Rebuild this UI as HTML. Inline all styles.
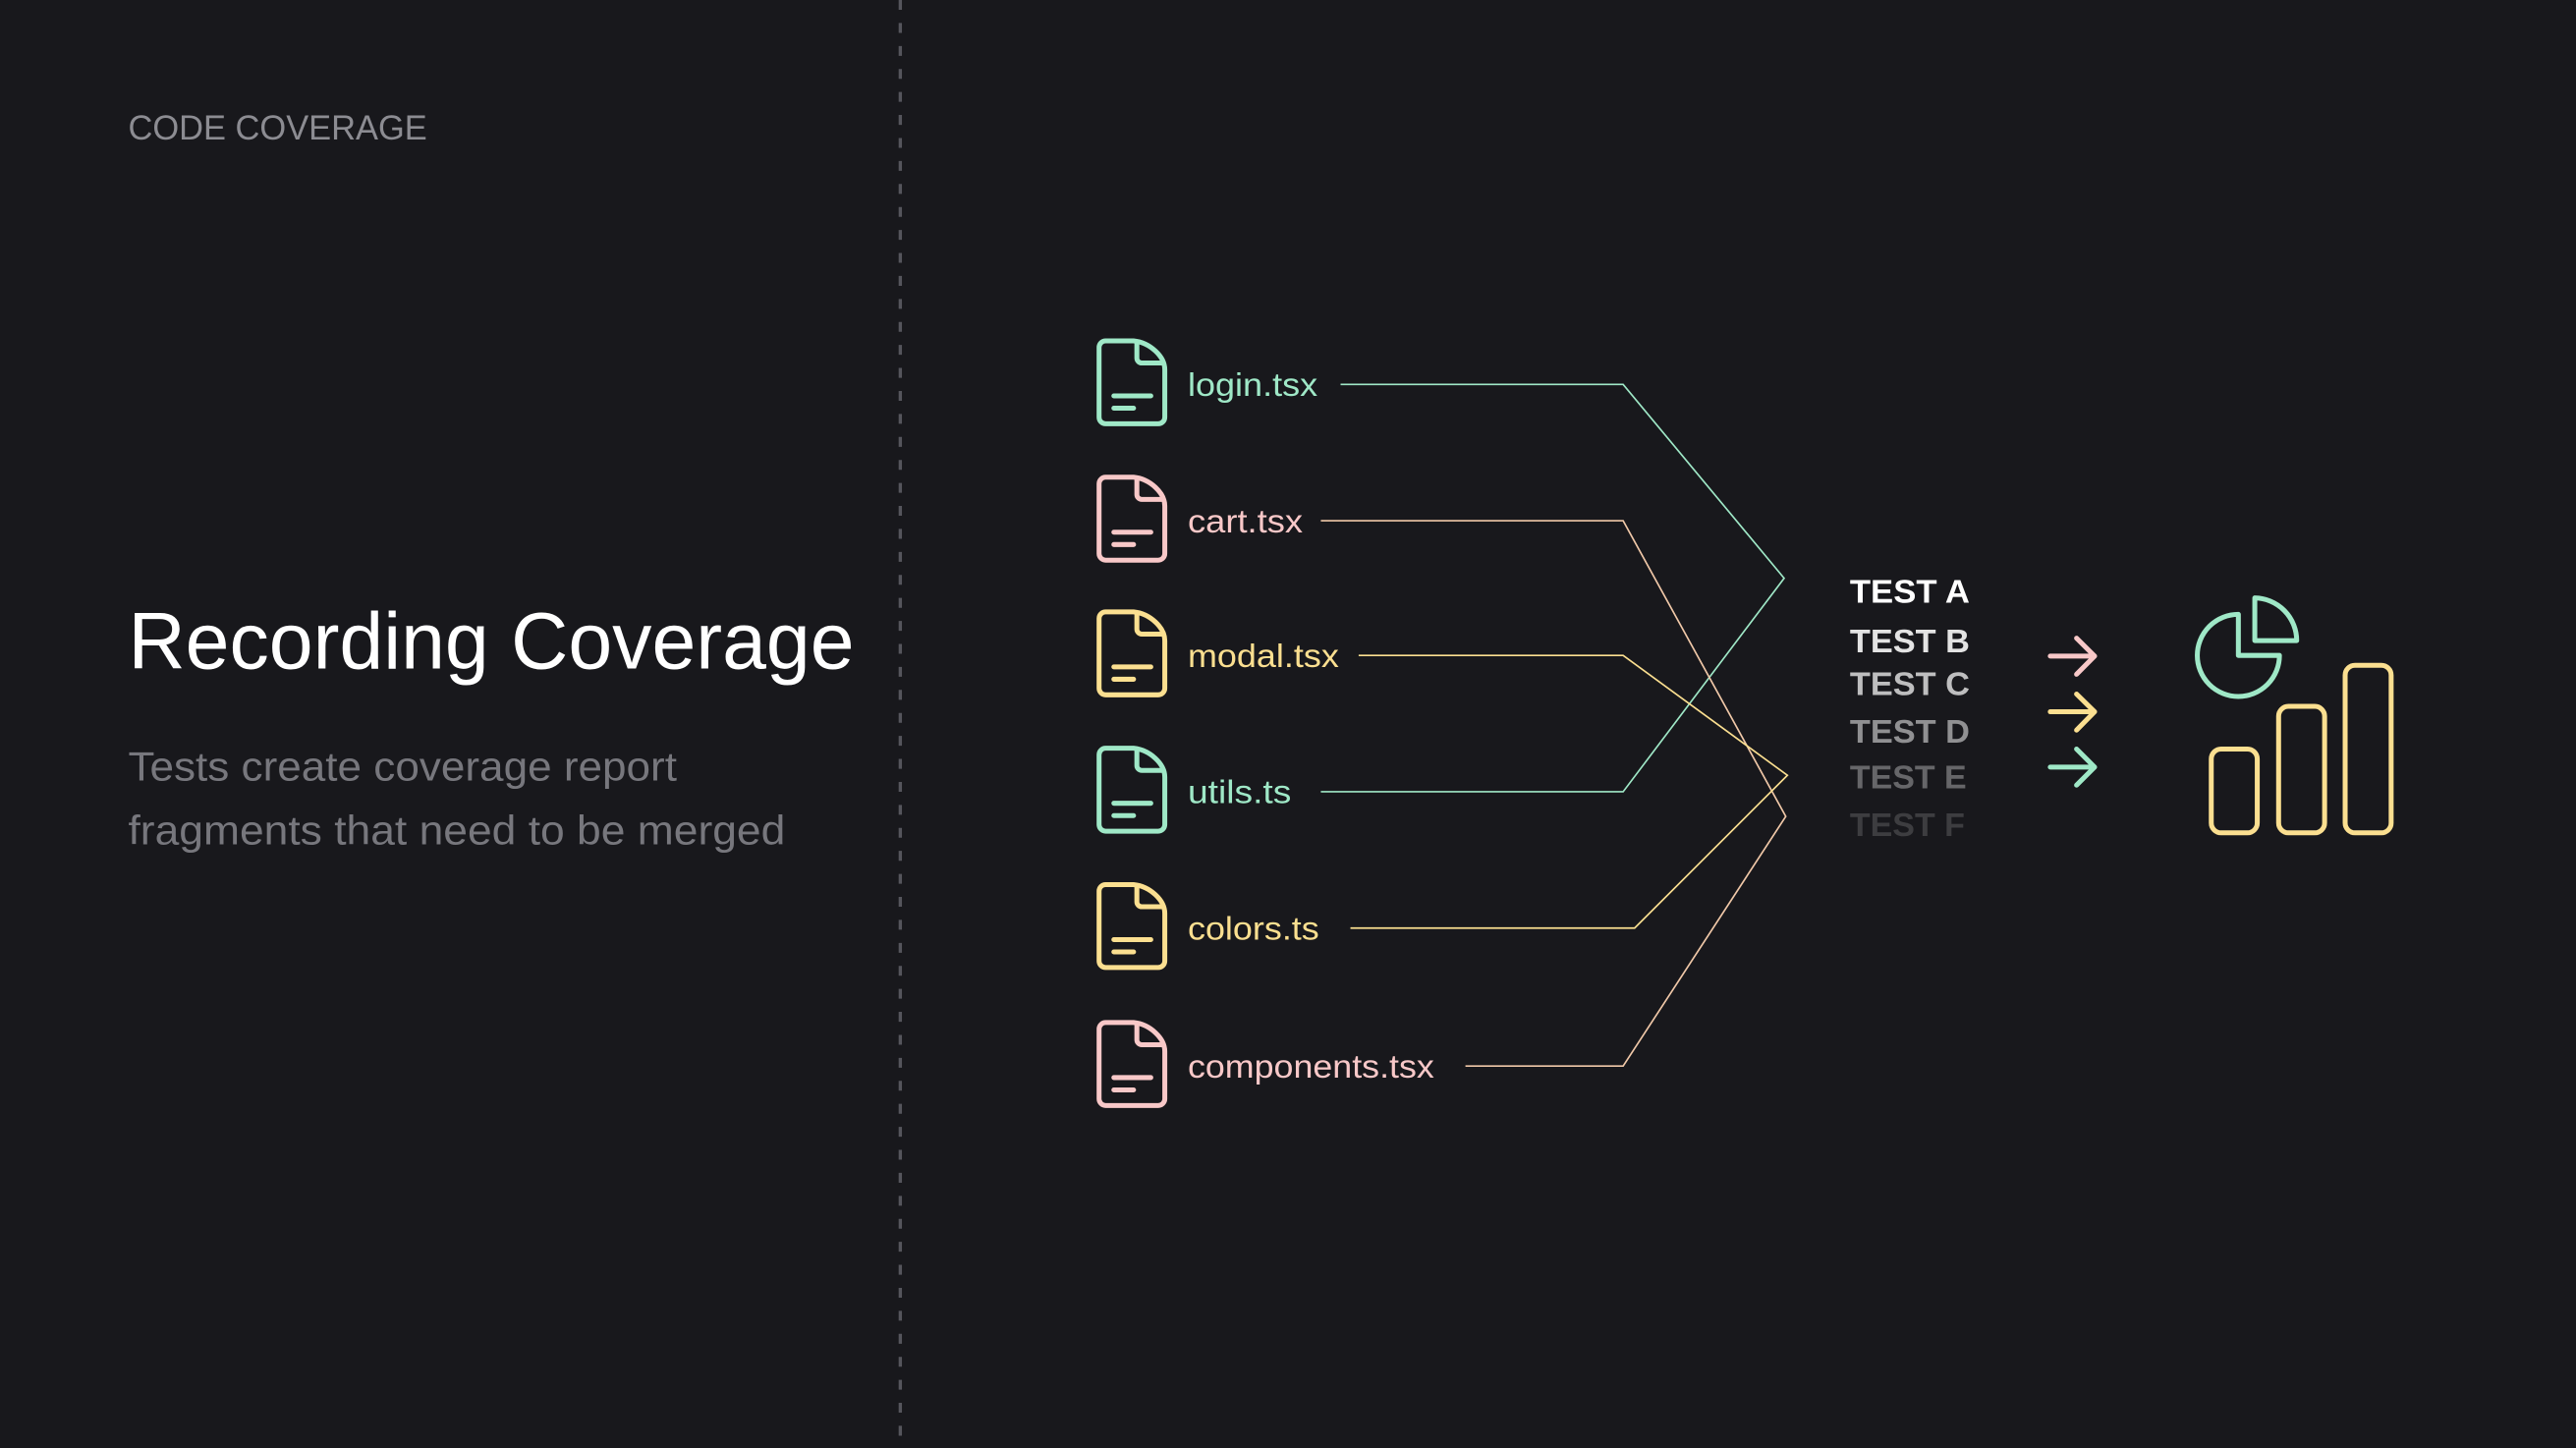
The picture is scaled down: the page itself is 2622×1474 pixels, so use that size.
<!DOCTYPE html>
<html><head><meta charset="utf-8"><style>
html,body{margin:0;padding:0;background:#18181c;}
svg{display:block}
text{font-family:"Liberation Sans",sans-serif}
</style></head><body>
<svg width="2622" height="1474" viewBox="0 0 1568 881.5" xmlns="http://www.w3.org/2000/svg">
<rect width="1568" height="882" fill="#18181c"/>
<defs>
<g id="doc" fill="none" stroke-width="3" stroke-linecap="round" stroke-linejoin="round">
<path d="M690,207.5 H673 a4 4 0 0 0 -4 4 V254 a4 4 0 0 0 4 4 H705 a4 4 0 0 0 4 -4 V225 C709,217 700,208.5 690,207.5 Z"/>
<path d="M692,208.5 V218 a3 3 0 0 0 3 3 H708"/>
<path d="M678,241 H700.5 M678,248.5 H690"/>
</g>
</defs>
<line x1="548" y1="0" x2="548" y2="881" stroke="#55555c" stroke-width="2" stroke-dasharray="6 8"/>
<text x="78" y="85" font-size="21" fill="#8c8c92" textLength="182" lengthAdjust="spacingAndGlyphs">CODE COVERAGE</text>
<text x="78" y="407" font-size="49" fill="#ffffff" textLength="442" lengthAdjust="spacingAndGlyphs">Recording Coverage</text>
<text x="78" y="475" font-size="25" fill="#77777d" textLength="334" lengthAdjust="spacingAndGlyphs">Tests create coverage report</text>
<text x="78" y="514" font-size="25" fill="#77777d" textLength="400" lengthAdjust="spacingAndGlyphs">fragments that need to be merged</text>

<use href="#doc" stroke="#9fe8c7" transform="translate(0,0)"/>
<use href="#doc" stroke="#f8c8c8" transform="translate(0,83)"/>
<use href="#doc" stroke="#fbdf90" transform="translate(0,165)"/>
<use href="#doc" stroke="#9fe8c7" transform="translate(0,248)"/>
<use href="#doc" stroke="#fbdf90" transform="translate(0,331)"/>
<use href="#doc" stroke="#f8c8c8" transform="translate(0,415)"/>

<g font-size="20" lengthAdjust="spacingAndGlyphs">
<text x="723" y="241" fill="#9fe8c7" textLength="79" lengthAdjust="spacingAndGlyphs">login.tsx</text>
<text x="723" y="324" fill="#f8c8c8" textLength="70" lengthAdjust="spacingAndGlyphs">cart.tsx</text>
<text x="723" y="406" fill="#fbdf90" textLength="92" lengthAdjust="spacingAndGlyphs">modal.tsx</text>
<text x="723" y="489" fill="#9fe8c7" textLength="63" lengthAdjust="spacingAndGlyphs">utils.ts</text>
<text x="723" y="572" fill="#fbdf90" textLength="80" lengthAdjust="spacingAndGlyphs">colors.ts</text>
<text x="723" y="656" fill="#f8c8c8" textLength="150" lengthAdjust="spacingAndGlyphs">components.tsx</text>
</g>

<g fill="none" stroke-width="1">
<polyline points="816,234 988,234 1086,352 988,482 804,482" stroke="#9fe8c7"/>
<polyline points="804,317 988,317 1087,497 988,649 892,649" stroke="#f0c8a8"/>
<polyline points="827,399 988,399 1088,472 995,565 822,565" stroke="#fbdf90"/>
</g>

<g font-size="20" font-weight="bold">
<text x="1126" y="367" fill="#ffffff" textLength="73" lengthAdjust="spacingAndGlyphs">TEST A</text>
<text x="1126" y="397" fill="#ffffff" fill-opacity="0.88" textLength="73" lengthAdjust="spacingAndGlyphs">TEST B</text>
<text x="1126" y="423" fill="#ffffff" fill-opacity="0.72" textLength="73" lengthAdjust="spacingAndGlyphs">TEST C</text>
<text x="1126" y="452" fill="#ffffff" fill-opacity="0.52" textLength="73" lengthAdjust="spacingAndGlyphs">TEST D</text>
<text x="1126" y="480" fill="#ffffff" fill-opacity="0.34" textLength="71" lengthAdjust="spacingAndGlyphs">TEST E</text>
<text x="1126" y="509" fill="#ffffff" fill-opacity="0.16" textLength="70" lengthAdjust="spacingAndGlyphs">TEST F</text>
</g>

<g fill="none" stroke-width="3" stroke-linecap="round" stroke-linejoin="round">
<path d="M1248,399.4 H1275 M1264,388.5 L1275,399.4 L1264,410.5" stroke="#f8c8c8"/>
<path d="M1248,433.3 H1275 M1264,422.5 L1275,433.3 L1264,444.5" stroke="#fbdf90"/>
<path d="M1248,467 H1275 M1264,456 L1275,467 L1264,478" stroke="#9fe8c7"/>
<path d="M1362.5,374 V399 H1387.5 A25 25 0 1 1 1362.5,374 Z" stroke="#9fe8c7"/>
<path d="M1372.5,364 V390 H1398 A26 26 0 0 0 1372.5,364 Z" stroke="#9fe8c7"/>
<rect x="1346" y="456" width="28" height="51" rx="6" stroke="#fbdf90"/>
<rect x="1387" y="430" width="28" height="77" rx="6" stroke="#fbdf90"/>
<rect x="1427.5" y="405" width="28" height="102" rx="6" stroke="#fbdf90"/>
</g>
</svg>
</body></html>
